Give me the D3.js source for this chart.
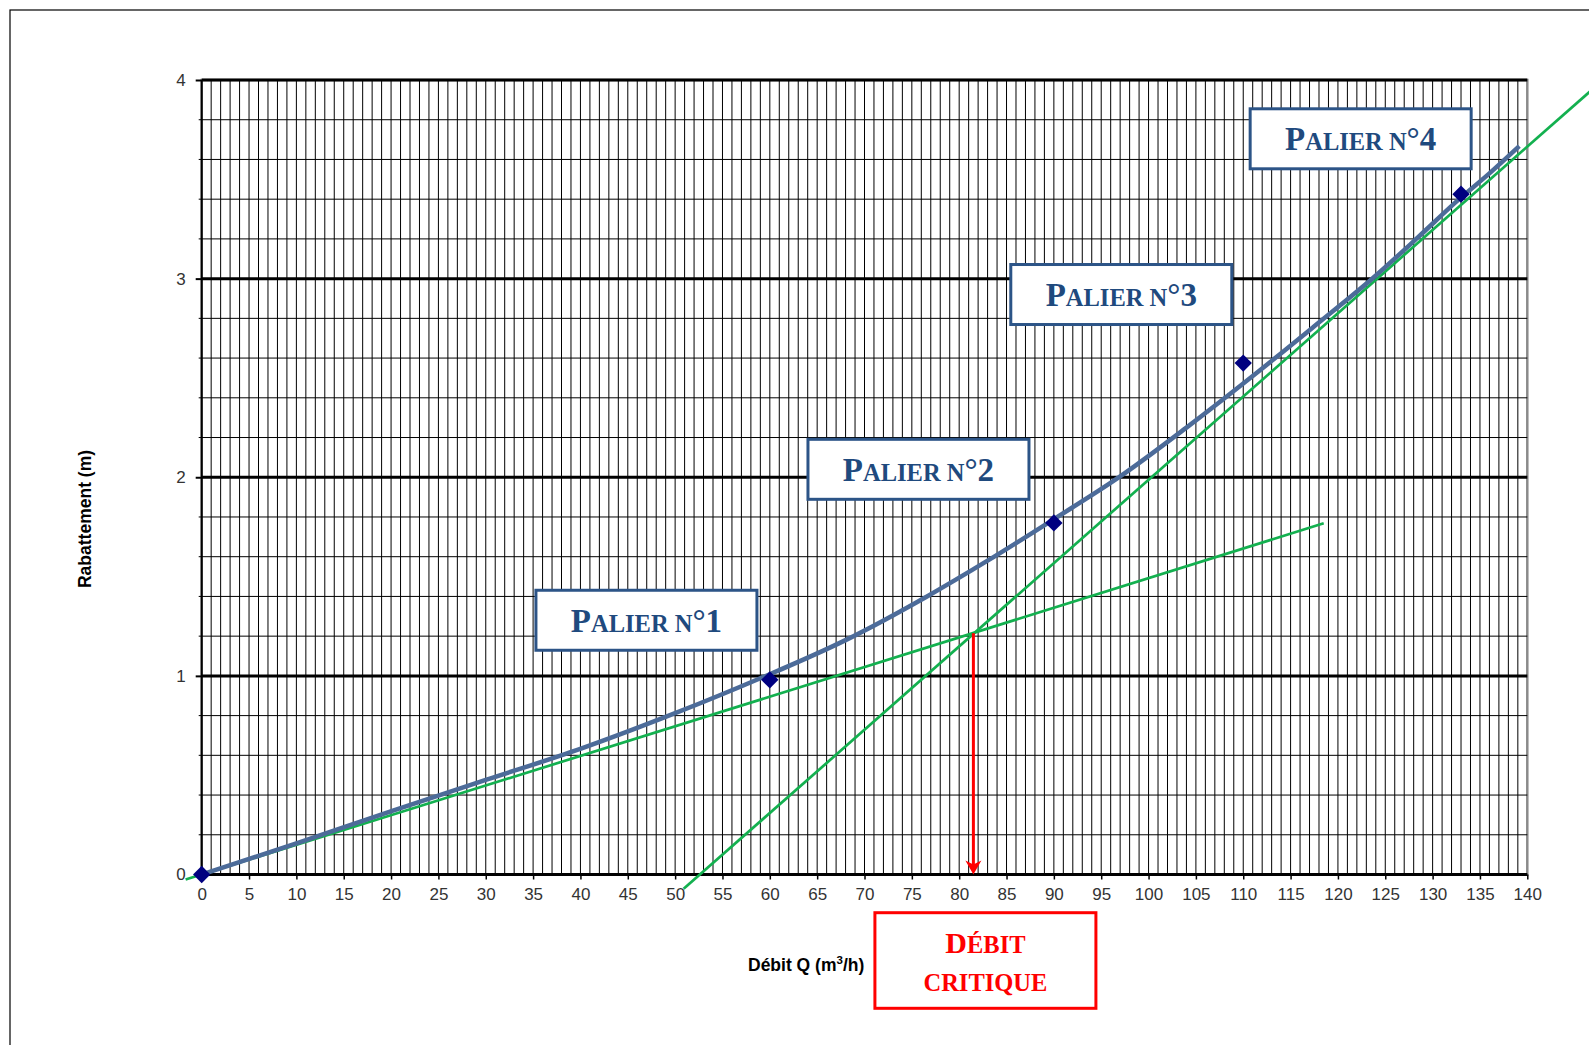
<!DOCTYPE html>
<html lang="fr">
<head>
<meta charset="utf-8">
<title>Rabattement en fonction du débit</title>
<script src="https://cdn.jsdelivr.net/npm/d3@7"></script>
<style>
  body { margin: 0; background: #fff; }
  svg { display: block; }
  .tick text { font-family: "Liberation Sans", Arial, sans-serif; font-size: 17px; fill: #333; }
  .axis-title { font-family: "Liberation Sans", Arial, sans-serif; font-weight: bold; font-size: 17.5px; fill: #000; }
  .palier text { font-family: "Liberation Serif", "Times New Roman", serif; font-weight: bold; fill: #1f4a7e; }
  .critique text { font-family: "Liberation Serif", "Times New Roman", serif; font-weight: bold; fill: #ff0000; }
</style>
</head>
<body>
<script>
// paliers de pompage (points mesures)
const debitPaliers = [0, 60, 90, 110, 133];
const rabatPaliers = [0, 0.98, 1.77, 2.575, 3.425];

// courbe caracteristique
const courbeQ = [0, 10, 20.2, 30, 40.2, 50, 59, 68, 76.6, 83, 89.9, 97, 104, 111.8, 117.5, 123.7, 128.5, 132.8, 136, 139.15];
const courbeS = [0, 0.157, 0.322, 0.476, 0.636, 0.812, 0.988, 1.18, 1.40, 1.58, 1.786, 2.004, 2.25, 2.54, 2.76, 3.003, 3.21, 3.40, 3.53, 3.667];

// droites vertes
const droite1Q = [-1.7, 118.5];
const droite1S = [-0.025, 1.768];
const droite2Q = [50.9, 148];
const droite2S = [-0.072, 4.0];

// debit critique
const debitCritique = 81.5;
const rabatCritique = 1.215;

// etiquettes
const xTicks = d3.range(0, 141, 5);
const yTicks = [0, 1, 2, 3, 4];
const paliers = [
  { label: "1", q: 46.97, s: 1.280 },
  { label: "2", q: 75.70, s: 2.040 },
  { label: "3", q: 97.12, s: 2.920 },
  { label: "4", q: 122.40, s: 3.704 }
];

const W = 1589, H = 1045;
const svg = d3.select("body").append("svg").attr("width", W).attr("height", H);

// cadre exterieur
svg.append("rect").attr("x", 10).attr("y", 10).attr("width", 1650).attr("height", 1100)
  .attr("fill", "none").attr("stroke", "#000").attr("stroke-width", 1.2);

const x = d3.scaleLinear().domain([0, 140]).range([201.7, 1527.3]);
const y = d3.scaleLinear().domain([0, 4]).range([874.5, 80]);

const grid = svg.append("g");

// bordure de la zone de tracé
grid.append("rect")
  .attr("x", x(0)).attr("y", y(4)).attr("width", x(140) - x(0)).attr("height", y(0) - y(4))
  .attr("fill", "#fff").attr("stroke", "#8a8a8a").attr("stroke-width", 2.5);

// grille verticale (1 m3/h)
grid.selectAll("line.v").data(d3.range(1, 140)).enter().append("line")
  .attr("x1", d => x(d)).attr("x2", d => x(d))
  .attr("y1", y(4)).attr("y2", y(0))
  .attr("stroke", "#000").attr("stroke-width", 1);

// grille horizontale secondaire (0.2 m)
const mineures = d3.range(1, 20).map(i => i * 0.2).filter(v => Math.abs(v - Math.round(v)) > 1e-6);
grid.selectAll("line.h").data(mineures).enter().append("line")
  .attr("x1", x(0)).attr("x2", x(140))
  .attr("y1", d => y(d)).attr("y2", d => y(d))
  .attr("stroke", "#000").attr("stroke-width", 1);

// grille horizontale principale
grid.selectAll("line.hm").data([1, 2, 3, 4]).enter().append("line")
  .attr("x1", x(0)).attr("x2", x(140))
  .attr("y1", d => y(d)).attr("y2", d => y(d))
  .attr("stroke", "#000").attr("stroke-width", 3);

// axes
const axeX = svg.append("g").attr("transform", `translate(0,${y(0)})`)
  .call(d3.axisBottom(x).tickValues(xTicks).tickSize(5).tickPadding(8));
axeX.select(".domain").remove();
axeX.selectAll(".tick line").attr("stroke", "#000").attr("stroke-width", 1.5);
svg.append("line").attr("x1", x(0) - 1).attr("x2", x(140)).attr("y1", y(0)).attr("y2", y(0))
  .attr("stroke", "#000").attr("stroke-width", 3);

const axeY = svg.append("g").attr("transform", `translate(${x(0)},0)`)
  .call(d3.axisLeft(y).tickValues(yTicks).tickSize(6).tickPadding(10).tickFormat(d3.format("d")));
axeY.select(".domain").remove();
axeY.selectAll(".tick line").attr("stroke", "#000").attr("stroke-width", 2);
svg.append("g").selectAll("line").data(mineures).enter().append("line")
  .attr("x1", x(0) - 3).attr("x2", x(0)).attr("y1", d => y(d)).attr("y2", d => y(d))
  .attr("stroke", "#000").attr("stroke-width", 1);
svg.append("line").attr("x1", x(0)).attr("x2", x(0)).attr("y1", y(4)).attr("y2", y(0))
  .attr("stroke", "#000").attr("stroke-width", 2);

// titres des axes
svg.append("text").attr("class", "axis-title")
  .attr("transform", `translate(91,519) rotate(-90)`).attr("text-anchor", "middle")
  .text("Rabattement (m)");
const titreX = svg.append("text").attr("class", "axis-title").attr("x", 748).attr("y", 971);
titreX.append("tspan").text("Débit Q (m");
titreX.append("tspan").attr("font-size", "11.5px").attr("dy", -7).text("3");
titreX.append("tspan").attr("dy", 7).text("/h)");

// droites vertes
const ligne = d3.line().x(d => x(d[0])).y(d => y(d[1]));
[[droite1Q, droite1S], [droite2Q, droite2S]].forEach(([qs, ss]) => {
  svg.append("path").datum(d3.zip(qs, ss)).attr("d", ligne)
    .attr("fill", "none").attr("stroke", "#13b04f").attr("stroke-width", 2.7);
});

// courbe caracteristique
svg.append("path").datum(d3.zip(courbeQ, courbeS))
  .attr("d", d3.line().x(d => x(d[0])).y(d => y(d[1])).curve(d3.curveMonotoneX))
  .attr("fill", "none").attr("stroke", "#4c6b99").attr("stroke-width", 4.5);

// points des paliers
svg.append("g").selectAll("path").data(d3.zip(debitPaliers, rabatPaliers)).enter().append("path")
  .attr("d", d3.symbol().type(d3.symbolSquare).size(150))
  .attr("transform", d => `translate(${x(d[0])},${y(d[1])}) rotate(45)`)
  .attr("fill", "#000080");

// fleche du debit critique
svg.append("line")
  .attr("x1", x(debitCritique)).attr("x2", x(debitCritique))
  .attr("y1", y(rabatCritique)).attr("y2", y(0) - 6)
  .attr("stroke", "#ff0000").attr("stroke-width", 3);
svg.append("path")
  .attr("d", `M${x(debitCritique) - 8},${y(0) - 14} L${x(debitCritique)},${y(0)} L${x(debitCritique) + 8},${y(0) - 14} L${x(debitCritique)},${y(0) - 10} Z`)
  .attr("fill", "#ff0000");

// etiquettes des paliers
const bw = 221, bh = 60;
const pg = svg.append("g").attr("class", "palier").selectAll("g").data(paliers).enter().append("g")
  .attr("transform", d => `translate(${x(d.q)},${y(d.s)})`);
pg.append("rect").attr("x", -bw / 2).attr("y", -bh / 2).attr("width", bw).attr("height", bh)
  .attr("fill", "#fff").attr("stroke", "#2c5487").attr("stroke-width", 3);
const pt = pg.append("text").attr("text-anchor", "middle").attr("y", 11.5);
pt.append("tspan").attr("font-size", "33px").text("P");
pt.append("tspan").attr("font-size", "24.5px").text("ALIER N");
pt.append("tspan").attr("font-size", "33px").text(d => "°" + d.label);

// encadre debit critique
const cg = svg.append("g").attr("class", "critique")
  .attr("transform", `translate(${x(82.77)},${y(-0.433)})`);
cg.append("rect").attr("x", -110.5).attr("y", -47.8).attr("width", 221).attr("height", 95.6)
  .attr("fill", "#fff").attr("stroke", "#ff0000").attr("stroke-width", 3);
const c1 = cg.append("text").attr("text-anchor", "middle").attr("y", -7.2);
c1.append("tspan").attr("font-size", "30px").text("D");
c1.append("tspan").attr("font-size", "24.5px").text("ÉBIT");
cg.append("text").attr("text-anchor", "middle").attr("y", 30.2).attr("font-size", "24.5px").text("CRITIQUE");
</script>
</body>
</html>
